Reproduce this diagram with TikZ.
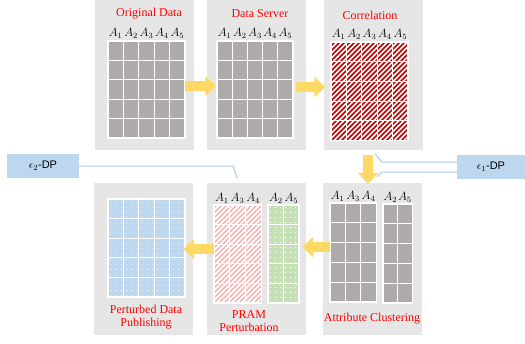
\documentclass[tikz,border=0pt]{standalone}
\usepackage{fontspec}
\setmainfont{Liberation Serif}
\setsansfont{Liberation Sans}
\usetikzlibrary{arrows.meta}

\definecolor{panelgray}{HTML}{E7E6E6}
\definecolor{cellgray}{HTML}{AEAAAA}
\definecolor{arrowgold}{HTML}{FFD966}
\definecolor{dpblue}{HTML}{BDD7EE}
\definecolor{dpline}{HTML}{A9CBEA}
\definecolor{corrred}{HTML}{C00000}
\definecolor{pramred}{HTML}{F4A8A8}
\definecolor{pramgreen}{HTML}{C5E0B4}
\definecolor{pubblue}{HTML}{BDD7EE}

\tikzset{
  panel/.style={fill=panelgray, draw=none, inner sep=0pt, minimum width=99pt},
  title/.style={text=red, font=\fontsize{12}{13}\selectfont, align=center, inner sep=0pt},
  hdr/.style={font=\fontsize{11.5}{12}\selectfont, inner sep=0pt},
  graycell/.style={fill=cellgray, draw=white, line width=1.2pt},
  cellline/.style={draw=white, line width=1.2pt},
  corrstripe/.style={draw=corrred, line width=1.5pt},
  pramstripe/.style={draw=pramred, line width=1.4pt},
  whitedot/.style={fill=white},
  bigarrow/.style={draw=arrowgold, line width=10pt, -{Triangle[width=20pt,length=11pt]}},
  dpbox/.style={fill=dpblue, draw=none, font=\sffamily\fontsize{11}{12}\selectfont, minimum height=24pt, inner sep=0pt},
  dpcall/.style={draw=dpline, line width=1pt},
}

\begin{document}
\begin{tikzpicture}[x=1pt,y=-1pt]
    \useasboundingbox (0,0) rectangle (525,343);

    % panels
    \node[panel, minimum height=150pt] (orig) at (144,75) {};
    \node[panel, minimum height=150pt] (server) at (256,75) {};
    \node[panel, minimum height=150pt] (corr) at (373,75) {};
    \node[panel, minimum height=152pt] (pub) at (143.5,259) {};
    \node[panel, minimum height=152pt] (pram) at (256.5,259) {};
    \node[panel, minimum height=152pt] (clus) at (372.5,259) {};

    % titles
    \node[title] (tOrig) at (149,14) {Original Data};
    \node[title] (tServer) at (260,14) {Data Server};
    \node[title] (tCorr) at (370,15) {Correlation};
    \node[title] (tPub) at (146,317) {Perturbed Data\\Publishing};
    \node[title] (tPram) at (249,321) {PRAM\\Perturbation};
    \node[title] (tClus) at (372,319) {Attribute Clustering};

    % original data
    \foreach \i in {0,...,4} {\foreach \j in {0,...,4} {
        \draw[graycell] (108+\i*15.4,41+\j*19.4) rectangle ++(15.4,19.4);}}
    \foreach \k in {1,...,5}
        \node[hdr] (ho\k) at (100.3+\k*15.4,33) {$A_{\k}$};

    % data server
    \foreach \i in {0,...,4} {\foreach \j in {0,...,4} {
        \draw[graycell] (217+\i*15.2,41+\j*19.4) rectangle ++(15.2,19.4);}}
    \foreach \k in {1,...,5}
        \node[hdr] (hs\k) at (209.4+\k*15.2,33) {$A_{\k}$};

    % correlation
    \begin{scope}
        \clip (331,42) rectangle (408,140.5);
        \fill[white] (331,42) rectangle (408,140.5);
        \foreach \d in {0,5,...,185}
            \draw[corrstripe] (230+\d,142) -- ++(102,-102);
    \end{scope}
    \foreach \i in {0,...,4} {\foreach \j in {0,...,4} {
        \draw[cellline] (331+\i*15.4,42+\j*19.7) rectangle ++(15.4,19.7);}}
    \foreach \k in {1,...,5}
        \node[hdr] (hc\k) at (323.3+\k*15.4,34) {$A_{\k}$};

    % attribute clustering
    \foreach \i in {0,...,2} {\foreach \j in {0,...,4} {
        \draw[graycell] (330+\i*15.4,203+\j*19.8) rectangle ++(15.4,19.8);}}
    \foreach \i in {0,1} {\foreach \j in {0,...,4} {
        \draw[graycell] (383+\i*14.6,204+\j*19.8) rectangle ++(14.6,19.8);}}
    \foreach \k/\n in {0/1,1/3,2/4}
        \node[hdr] (hl\n) at (337.7+\k*15.4,196) {$A_{\n}$};
    \foreach \k/\n in {0/2,1/5}
        \node[hdr] (hr\n) at (390.3+\k*14.6,197) {$A_{\n}$};

    % PRAM perturbation
    \begin{scope}
        \clip (214,205) rectangle (261.1,303);
        \fill[white] (214,205) rectangle (261.1,303);
        \foreach \d in {0,5,...,150}
            \draw[pramstripe] (112+\d,305) -- ++(102,-102);
    \end{scope}
    \foreach \i in {0,...,2} {\foreach \j in {0,...,4} {
        \draw[cellline] (214+\i*15.7,205+\j*19.6) rectangle ++(15.7,19.6);}}
    \fill[pramgreen] (268,205) rectangle (299,303);
    \foreach \i in {0,...,5} {\foreach \j in {0,...,19} {
        \fill[whitedot] (270.5+\i*5,207.5+\j*5) circle (0.55);}}
    \foreach \i in {0,1} {\foreach \j in {0,...,4} {
        \draw[cellline] (268+\i*15.5,205+\j*19.6) rectangle ++(15.5,19.6);}}
    \foreach \k/\n in {0/1,1/3,2/4}
        \node[hdr] (pl\n) at (221.8+\k*15.7,198) {$A_{\n}$};
    \foreach \k/\n in {0/2,1/5}
        \node[hdr] (pr\n) at (275.8+\k*15.5,198) {$A_{\n}$};

    % perturbed data publishing
    \fill[pubblue] (108,199) rectangle (185,297);
    \foreach \i in {0,...,14} {\foreach \j in {0,...,18} {
        \fill[whitedot] (111+\i*5.2,202+\j*5.2) circle (0.5);}}
    \foreach \i in {0,...,4} {\foreach \j in {0,...,4} {
        \draw[cellline] (108+\i*15.4,199+\j*19.6) rectangle ++(15.4,19.6);}}

    % arrows
    \draw[bigarrow, shorten <=-9pt, shorten >=-10pt] ([yshift=-11pt]orig.east) -- ([yshift=-11pt]server.west);
    \draw[bigarrow, shorten <=-10pt, shorten >=-2pt] ([yshift=-12pt]server.east) -- ([yshift=-12pt]corr.west);
    \draw[bigarrow, shorten <=5pt, shorten >=-1pt] ([xshift=-5pt]corr.south) -- ([xshift=-4.5pt]clus.north);
    \draw[bigarrow, shorten <=-7pt, shorten >=-4pt] ([yshift=12pt]clus.west) -- ([yshift=12pt]pram.east);
    \draw[bigarrow, shorten <=-7pt, shorten >=-10pt] ([yshift=10pt]pram.west) -- ([yshift=10pt]pub.east);

    % privacy budgets
    \node[dpbox, minimum width=68pt] (eps1) at (491,167) {$\epsilon_1$-DP};
    \node[dpbox, minimum width=72pt] (eps2) at (43,166) {$\epsilon_2$-DP};
    \coordinate (e1top) at (375,154);
    \coordinate (e1bot) at (377,177);
    \coordinate (e2end) at (237,178);
    \draw[dpcall] ([yshift=5pt]eps1.west) -- ++(-75,0) -- (e1top);
    \draw[dpcall] ([yshift=-5pt]eps1.west) -- ++(-75,0) -- (e1bot);
    \draw[dpcall] (eps2.east) -- ++(154,0) -- (e2end);
\end{tikzpicture}
\end{document}
